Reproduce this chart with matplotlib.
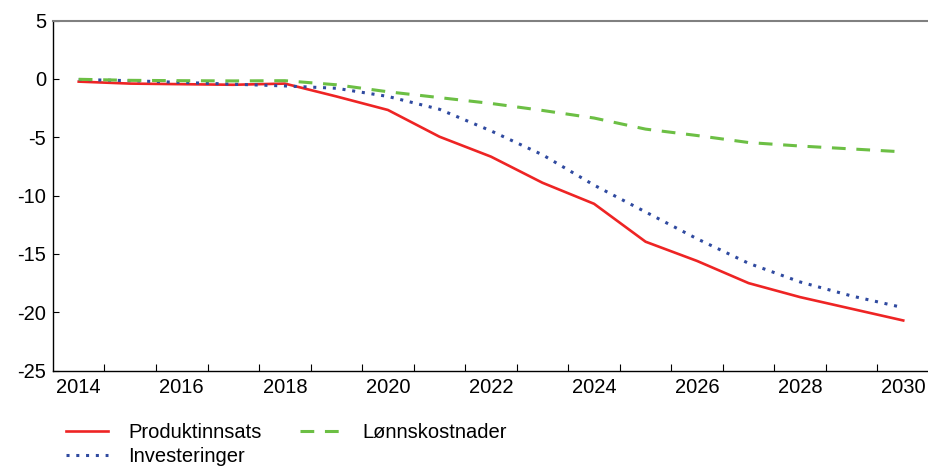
import numpy as np
import matplotlib
matplotlib.use('Agg')
import matplotlib.pyplot as plt

# Data

years = [2014, 2015, 2016, 2017, 2018, 2019, 2020, 2021, 2022,
         2023, 2024, 2025, 2026, 2027, 2028, 2029, 2030]

produktinnsats = [-0.23, -0.4, -0.45, -0.5, -0.4, -1.5, -2.66, -4.95, -6.66,
                  -8.9, -10.7, -13.95, -15.6, -17.5, -18.7, -19.7, -20.7]
investeringer = [-0.05, -0.15, -0.3, -0.45, -0.6, -0.8, -1.5, -2.6, -4.45,
                 -6.5, -9.1, -11.4, -13.7, -15.8, -17.4, -18.6, -19.6]
lonnskostnader = [-0.03, -0.12, -0.15, -0.17, -0.15, -0.5, -1.1, -1.6, -2.1,
                  -2.7, -3.35, -4.3, -4.85, -5.45, -5.75, -6.0, -6.25]

yticks = [5, 0, -5, -10, -15, -20, -25]

plt.rcParams['font.family'] = ['Liberation Sans', 'DejaVu Sans']

fig = plt.figure(figsize = (9.29, 4.68), dpi = 100)
ax = fig.add_axes([0.057, 0.208, 0.943, 0.748])

x = np.arange(len(years))

ax.plot(x, produktinnsats, color = '#ee2424', linewidth = 1.9, label = 'Produktinnsats')
ax.plot(x, investeringer, color = '#2f4aa0', linewidth = 2.2, linestyle = (0, (1, 2.2)), label = 'Investeringer')
ax.plot(x, lonnskostnader, color = '#6cbf44', linewidth = 2.2, linestyle = (0, (4.5, 3.5)), label = 'Lønnskostnader')

ax.set_xlim(-0.5, len(years) - 0.5)
ax.set_ylim(-25, 5)
ax.set_yticks(yticks)
ax.set_yticklabels([str(v) for v in yticks])

ax.set_xticks(x[::2])
ax.set_xticklabels([str(y) for y in years[::2]])
ax.set_xticks(x[:-1] + 0.5, minor = True)
ax.tick_params(axis = 'x', which = 'major', length = 0, pad = 5, labelsize = 14.5)
ax.tick_params(axis = 'x', which = 'minor', direction = 'in', length = 5, width = 0.8)
ax.tick_params(axis = 'y', direction = 'in', length = 4, width = 0.8, pad = 5, labelsize = 14.5)

ax.spines['right'].set_visible(False)
ax.spines['top'].set_color('#808080')
ax.spines['top'].set_linewidth(1.5)
ax.spines['left'].set_linewidth(1.0)
ax.spines['bottom'].set_linewidth(1.0)

fig.legend(loc = 'upper left', bbox_to_anchor = (0.071, 0.097), ncol = 2, frameon = False,
           fontsize = 14.5, handlelength = 2.1, handletextpad = 1.0, columnspacing = 1.9,
           labelspacing = 0.28, borderaxespad = 0, borderpad = 0)

plt.savefig('out.png', dpi = 100)
